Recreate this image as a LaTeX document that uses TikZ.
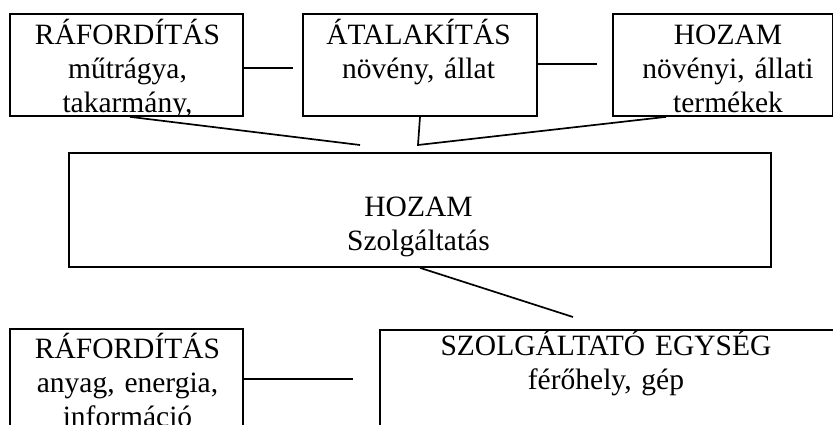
\documentclass[tikz,border=0pt]{standalone}
\usepackage{fontspec}
\setmainfont{Liberation Serif}
\tikzset{
  box/.style={draw, rectangle, line width=1.7pt, inner sep=0pt},
  boxtext/.style={anchor=base, align=center, inner sep=0pt,
    font=\fontsize{29.5}{34}\selectfont},
  link/.style={line width=1.7pt}
}
\begin{document}
\begin{tikzpicture}[x=1pt, y=-1pt]
  \clip (0,0) rectangle (833,425);
  % top row
  \node[box, minimum width=233, minimum height=102] (rafor) at (126.5,65) {};
  \node[box, minimum width=234, minimum height=102] (atalak) at (420,65) {};
  \node[box, minimum width=220, minimum height=102] (hozam) at (723,65) {};
  \begin{scope}
    \clip (10,14) rectangle (243,116);
    \node[boxtext, text width=233] (rafor-t) at (127.5,45) {RÁFORDÍTÁS\\műtrágya,\\takarmány,};
  \end{scope}
  \node[boxtext, text width=234] (atalak-t) at (418.5,45) {ÁTALAKÍTÁS\\növény, állat};
  \node[boxtext, text width=220] (hozam-t) at (728,45) {HOZAM\\növényi, állati\\termékek};
  % middle
  \node[box, minimum width=702, minimum height=114] (szolg) at (420,210) {};
  \node[boxtext, text width=700] (szolg-t) at (418.5,216) {HOZAM\\Szolgáltatás};
  % bottom row
  \node[box, minimum width=233, minimum height=151] (rafor2) at (126.5,404.5) {};
  \node[box, minimum width=460, minimum height=150] (egyseg) at (610,405) {};
  \node[boxtext, text width=233] (rafor2-t) at (127.5,358) {RÁFORDÍTÁS\\anyag, energia,\\információ};
  \node[boxtext, text width=460] (egyseg-t) at (606,355) {SZOLGÁLTATÓ EGYSÉG\\férőhely, gép};
  % connectors
  \coordinate (c1) at (293,68);
  \coordinate (c2) at (597,64);
  \coordinate (c3) at (360,145);
  \coordinate (c4) at (418,145);
  \coordinate (c5) at (573,317);
  \coordinate (c6) at (353,379);
  \draw[link] (c1 -| rafor.east) -- (c1);
  \draw[link] (c2 -| atalak.east) -- (c2);
  \draw[link] ([xshift=3.5pt]rafor.south) -- (c3);
  \draw[link] (atalak.south) -- (c4) -- ([xshift=54pt]hozam.south west);
  \draw[link] (szolg.south) -- (c5);
  \draw[link] (c6 -| rafor2.east) -- (c6);
\end{tikzpicture}
\end{document}
